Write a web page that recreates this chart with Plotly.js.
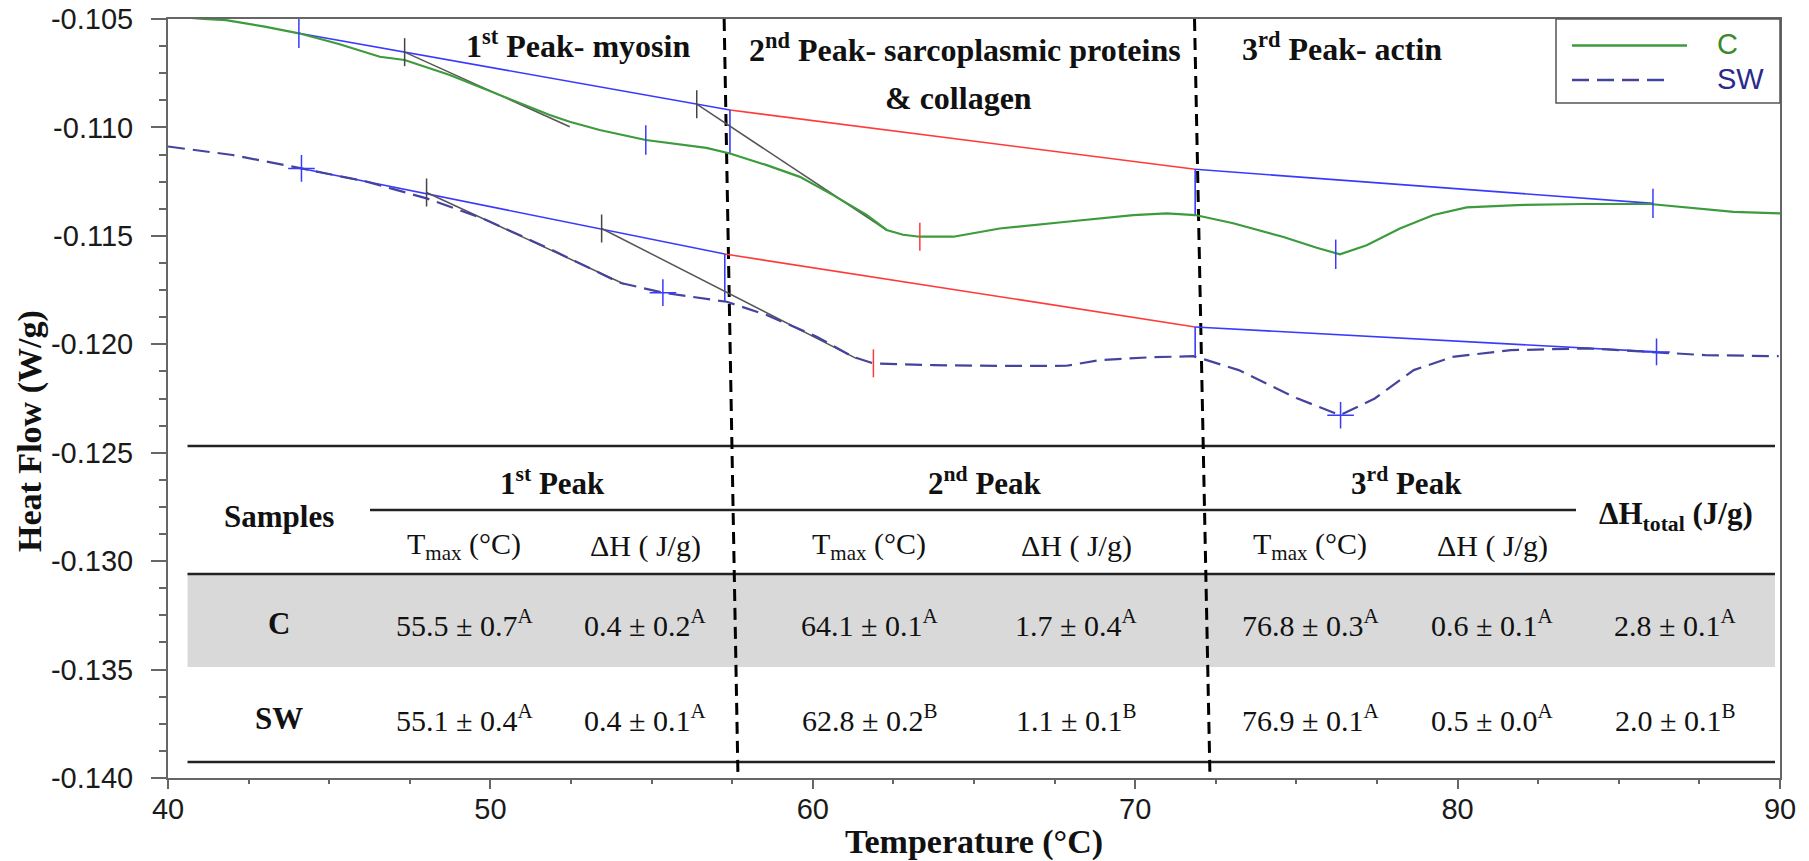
<!DOCTYPE html>
<html>
<head>
<meta charset="utf-8">
<script src="https://cdn.plot.ly/plotly-3.0.1.min.js"></script>
<style>html,body{margin:0;padding:0;background:#fff;}#chart{width:1809px;height:861px;}</style>
</head>
<body>
<div id="chart"></div>
<script>
// ---------------- DATA ----------------
const tempC = [40.5,41.1,41.8,43.0,44.06,45.3,46.57,47.34,48.74,50.29,51.84,52.46,53.39,54.82,55.66,56.7,57.43,58.57,59.6,60.63,61.67,62.29,62.8,63.32,64.36,65.1,65.8,67.87,69.94,70.98,71.86,73.04,74.6,75.63,76.35,77.18,78.21,79.25,80.28,81.84,83.9,85.97,87.0,88.56,90.0];
const heatC = [-0.10492,-0.10500,-0.10505,-0.10535,-0.10566,-0.10615,-0.10674,-0.10689,-0.10758,-0.10850,-0.10943,-0.10974,-0.11012,-0.11058,-0.11073,-0.11094,-0.11120,-0.11174,-0.11228,-0.11312,-0.11404,-0.11473,-0.11495,-0.11504,-0.11504,-0.11485,-0.11466,-0.11435,-0.11404,-0.11396,-0.11404,-0.11442,-0.11505,-0.11555,-0.11585,-0.11543,-0.11466,-0.11404,-0.11369,-0.11358,-0.11353,-0.11353,-0.11366,-0.11389,-0.11396];

const tempSW = [40.0,42.0,44.14,46.16,48.02,49.78,51.84,54.01,55.35,57.33,58.57,60.12,61.25,61.88,63.73,65.8,67.87,68.9,70.46,71.8,72.22,73.21,75.0,76.35,77.43,78.64,79.84,81.65,84.05,86.1,87.68,89.96];
const heatSW = [-0.11088,-0.11127,-0.11189,-0.11250,-0.11327,-0.11421,-0.11560,-0.11716,-0.11762,-0.11804,-0.11865,-0.11965,-0.12058,-0.12088,-0.12096,-0.12100,-0.12099,-0.12073,-0.12060,-0.12055,-0.12073,-0.12119,-0.12248,-0.12327,-0.12250,-0.12119,-0.12058,-0.12027,-0.12019,-0.12035,-0.12050,-0.12055];

// integration baselines (blue / red / blue) and drop lines
const baseCx = [44.06, 57.43, 71.86, 86.06];
const baseCy = [-0.10566, -0.10920, -0.11193, -0.11350];
const dropCy = [-0.11120, -0.11404];
const baseSWx = [44.14, 57.27, 71.86, 86.17];
const baseSWy = [-0.11189, -0.11584, -0.11920, -0.12035];
const dropSWy = [-0.11804, -0.12060];

// onset tangents
const tanCx = [[47.34, 52.46], [56.40, 62.29]];
const tanCy = [[-0.10653, -0.10997], [-0.10893, -0.11473]];
const tanSWx = [[48.02, 54.16], [53.45, 61.36]];
const tanSWy = [[-0.11300, -0.11723], [-0.11466, -0.12066]];

// analysis marks
const blueMarkCx = [44.06, 54.82, 76.22, 86.06];
const blueMarkCy = [-0.10566, -0.11058, -0.11585, -0.11350];
const blueMarkSWx = [44.14, 55.35, 76.37, 86.17];
const blueMarkSWy = [-0.11189, -0.11762, -0.12327, -0.12035];
const onsetMarkX = [47.34, 56.40, 48.02, 53.45];
const onsetMarkY = [-0.10653, -0.10893, -0.11300, -0.11466];
const redMarkX = [63.32, 61.88];
const redMarkY = [-0.11504, -0.12088];

// peak region boundaries (top / bottom x)
const boundTopX = [57.25, 71.84];
const boundBotX = [57.68, 72.32];

// axis ticks
const xTickVals = [40, 50, 60, 70, 80, 90];
const yTickVals = [-0.140, -0.135, -0.130, -0.125, -0.120, -0.115, -0.110, -0.105];
const yTickText = ['-0.140', '-0.135', '-0.130', '-0.125', '-0.120', '-0.115', '-0.110', '-0.105'];

// region labels
const regionLabels = ['1<sup>st</sup> Peak- myosin', '2<sup>nd</sup> Peak- sarcoplasmic proteins', '& collagen', '3<sup>rd</sup> Peak- actin'];

// table
const samples = ['C', 'SW'];
const peakHeads = ['1<sup>st</sup> Peak', '2<sup>nd</sup> Peak', '3<sup>rd</sup> Peak'];
const colHeads = ['T<sub>max</sub> (°C)', 'ΔH ( J/g)', 'T<sub>max</sub> (°C)', 'ΔH ( J/g)', 'T<sub>max</sub> (°C)', 'ΔH ( J/g)'];
const t1Mean = [55.5, 55.1], t1Sd = [0.7, 0.4], t1Grp = ['A', 'A'];
const h1Mean = [0.4, 0.4],   h1Sd = [0.2, 0.1], h1Grp = ['A', 'A'];
const t2Mean = [64.1, 62.8], t2Sd = [0.1, 0.2], t2Grp = ['A', 'B'];
const h2Mean = [1.7, 1.1],   h2Sd = [0.4, 0.1], h2Grp = ['A', 'B'];
const t3Mean = [76.8, 76.9], t3Sd = [0.3, 0.1], t3Grp = ['A', 'A'];
const h3Mean = [0.6, 0.5],   h3Sd = [0.1, 0.0], h3Grp = ['A', 'A'];
const hTotMean = [2.8, 2.0], hTotSd = [0.1, 0.1], hTotGrp = ['A', 'B'];

// ---------------- LAYOUT HELPERS ----------------
const L = 168, R = 1780, T = 19, B = 778;
const W = R - L, H = B - T;
const px = x => (x - L) / W;
const py = y => (B - y) / H;

const GREEN = '#3c9b3c', NAVY = '#44449f', BLUE = '#3a3aff', RED = '#ff3a3a', GRAY = '#555555';
const SERIF = 'Liberation Serif, Times New Roman, serif';
const SANS = 'Liberation Sans, Arial, sans-serif';

const traces = [];
function seg(x, y, color, width, dash) {
  traces.push({x: x, y: y, type: 'scatter', mode: 'lines', hoverinfo: 'skip', showlegend: false,
    line: {color: color, width: width, dash: dash || 'solid'}});
}
// peak boundaries
for (let i = 0; i < boundTopX.length; i++) {
  seg([boundTopX[i], boundBotX[i]], [-0.105, -0.140], '#000000', 3, '12px,7px');
}
// baselines
function baseline(bx, by, dy) {
  seg([bx[0], bx[1]], [by[0], by[1]], BLUE, 1.6);
  seg([bx[1], bx[2]], [by[1], by[2]], RED, 1.6);
  seg([bx[2], bx[3]], [by[2], by[3]], BLUE, 1.6);
  seg([bx[1], bx[1]], [by[1], dy[0]], BLUE, 1.6);
  seg([bx[2], bx[2]], [by[2], dy[1]], BLUE, 1.6);
}
baseline(baseCx, baseCy, dropCy);
baseline(baseSWx, baseSWy, dropSWy);
// tangents
for (let i = 0; i < tanCx.length; i++) seg(tanCx[i], tanCy[i], GRAY, 1.5);
for (let i = 0; i < tanSWx.length; i++) seg(tanSWx[i], tanSWy[i], GRAY, 1.5);

// curves
traces.push({x: tempC, y: heatC, name: 'C', type: 'scatter', mode: 'lines', line: {color: GREEN, width: 2.2}, showlegend: false});
traces.push({x: tempSW, y: heatSW, name: 'SW', type: 'scatter', mode: 'lines', line: {color: NAVY, width: 2.2, dash: '17px,8px'}, showlegend: false});

// marks
function marks(x, y, color, sym, size) {
  traces.push({x: x, y: y, type: 'scatter', mode: 'markers', hoverinfo: 'skip', showlegend: false,
    marker: {symbol: sym, size: size, color: color, line: {color: color, width: 1.5}}});
}
marks(blueMarkCx, blueMarkCy, BLUE, 'line-ns', 21);
marks(blueMarkSWx, blueMarkSWy, BLUE, 'cross-thin', 19);
marks(onsetMarkX, onsetMarkY, '#444444', 'line-ns', 20);
marks(redMarkX, redMarkY, RED, 'line-ns', 20);

// ---------------- SHAPES (table + legend) ----------------
const shapes = [];
function hline(y, x0, x1) {
  shapes.push({type: 'line', xref: 'paper', yref: 'paper', x0: px(x0), x1: px(x1), y0: py(y), y1: py(y),
    line: {color: '#222222', width: 2.5}, layer: 'below'});
}
shapes.push({type: 'rect', xref: 'paper', yref: 'paper', x0: px(187.5), x1: px(1775), y0: py(667), y1: py(574),
  fillcolor: '#d9d9d9', line: {width: 0}, layer: 'below'});
hline(446, 187.5, 1775);
hline(510, 370, 1576);
hline(574, 187.5, 1775);
hline(762, 187.5, 1775);
// legend box
shapes.push({type: 'rect', xref: 'paper', yref: 'paper', x0: px(1556), x1: px(1780), y0: py(103), y1: py(19),
  fillcolor: 'rgba(255,255,255,0)', line: {color: '#555555', width: 1.5}});
shapes.push({type: 'line', xref: 'paper', yref: 'paper', x0: px(1572), x1: px(1687), y0: py(45.5), y1: py(45.5),
  line: {color: GREEN, width: 2.5}});
shapes.push({type: 'line', xref: 'paper', yref: 'paper', x0: px(1572), x1: px(1668), y0: py(80), y1: py(80),
  line: {color: NAVY, width: 2.5, dash: '17px,8px'}});

// ---------------- ANNOTATIONS ----------------
const ann = [];
function txt(text, x, y, size, opts) {
  ann.push(Object.assign({text: text, xref: 'paper', yref: 'paper', x: px(x), y: py(y), showarrow: false,
    xanchor: 'center', yanchor: 'middle', font: {family: SERIF, size: size, color: '#111111'}}, opts || {}));
}
// region labels
txt('<b>' + regionLabels[0] + '</b>', 578, 44, 32);
txt('<b>' + regionLabels[1] + '</b>', 965, 48, 32);
txt('<b>' + regionLabels[2] + '</b>', 958, 98, 32);
txt('<b>' + regionLabels[3] + '</b>', 1342, 47, 32);
// legend text
txt('C', 1715, 44, 29, {xanchor: 'left', font: {family: SANS, size: 29, color: '#3a8a2a'}});
txt('SW', 1715, 79, 29, {xanchor: 'left', font: {family: SANS, size: 29, color: '#2a2a8c'}});
// table headers
txt('<b>Samples</b>', 279, 516, 31);
const peakX = [552, 985, 1406];
peakHeads.forEach((h, i) => txt('<b>' + h + '</b>', peakX[i], 481, 31));
txt('<b>ΔH<sub>total</sub> (J/g)</b>', 1676, 516, 31);
const colX = [464, 645, 869, 1076, 1310, 1492, 1675];
colHeads.forEach((h, i) => txt(h, colX[i], 546, 30));
// table rows
const rowY = [623, 718];
const cols = [[t1Mean, t1Sd, t1Grp], [h1Mean, h1Sd, h1Grp], [t2Mean, t2Sd, t2Grp], [h2Mean, h2Sd, h2Grp],
              [t3Mean, t3Sd, t3Grp], [h3Mean, h3Sd, h3Grp], [hTotMean, hTotSd, hTotGrp]];
samples.forEach((s, r) => {
  txt('<b>' + s + '</b>', 279, rowY[r], 31);
  cols.forEach((c, j) => {
    txt(c[0][r].toFixed(1) + ' ± ' + c[1][r].toFixed(1) + '<sup>' + c[2][r] + '</sup>', colX[j], rowY[r], 30);
  });
});
// y axis title
txt('<b>Heat Flow (W/g)</b>', 30, 431, 34, {textangle: -90});

const layout = {
  width: 1809, height: 861,
  margin: {l: L, r: 1809 - R, t: T, b: 861 - B, pad: 0},
  paper_bgcolor: '#ffffff', plot_bgcolor: '#ffffff',
  showlegend: false,
  xaxis: {
    range: [40, 90], tickvals: xTickVals, ticks: 'outside', ticklen: 9, tickwidth: 1.5, tickcolor: '#666666',
    showline: true, linecolor: '#666666', linewidth: 2, mirror: true, showgrid: false, zeroline: false,
    tickfont: {family: SANS, size: 29, color: '#1a1a1a'}, ticklabelstandoff: -5,
    minor: {dtick: 2.5, ticks: 'outside', ticklen: 4, tickwidth: 1.5, tickcolor: '#666666', showgrid: false},
    title: {text: '<b>Temperature (°C)</b>', font: {family: SERIF, size: 34, color: '#111111'}, standoff: 6},
    automargin: false
  },
  yaxis: {
    range: [-0.140, -0.105], tickvals: yTickVals, ticktext: yTickText, ticks: 'outside', ticklen: 15, tickwidth: 1.5,
    tickcolor: '#666666', showline: true, linecolor: '#666666', linewidth: 2, mirror: true, showgrid: false, zeroline: false,
    tickfont: {family: SANS, size: 29, color: '#1a1a1a'}, ticklabelstandoff: 12,
    minor: {dtick: 0.00125, ticks: 'outside', ticklen: 7, tickwidth: 1.5, tickcolor: '#666666', showgrid: false},
    automargin: false
  },
  shapes: shapes,
  annotations: ann
};

Plotly.newPlot('chart', traces, layout, {displayModeBar: false});
</script>
</body>
</html>
